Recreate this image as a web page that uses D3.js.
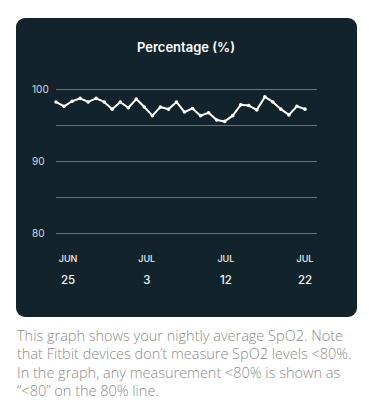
<!DOCTYPE html>
<meta charset="utf-8">
<style>
  body { margin: 0; background: #fff; }
  .grid line { stroke: #66757d; stroke-width: 1px; }
  .ylab { font: 10px "Inter", sans-serif; fill: #d9dee1; }
  .mon { font: 500 9px "Inter", sans-serif; fill: #eef1f2; }
  .day { font: 500 11.5px "Inter", sans-serif; fill: #f2f4f5; }
  .caption { font: 300 14.5px "Open Sans", sans-serif; fill: #8c8c8c; }
</style>
<body>
<script src="https://cdn.jsdelivr.net/npm/d3@7"></script>
<script>
  // nightly average SpO2
  var spo2 = [98.2, 97.6, 98.3, 98.7, 98.2, 98.7, 98.2, 97.2, 98.2, 97.4,
              98.6, 97.5, 96.3, 97.5, 97.2, 98.2, 96.8, 97.3, 96.3, 96.7,
              95.7, 95.5, 96.3, 97.8, 97.7, 97.1, 98.9, 98.2, 97.2, 96.4,
              97.6, 97.2];
  var yTicks = [100, 95, 90, 85, 80];
  var yLabels = [100, 90, 80];
  var tickMonths = ["JUN", "JUL", "JUL", "JUL"];
  var tickDays = ["25", "3", "12", "22"];
  var tickIdx = [1.5, 11.3, 21.15, 31];
  var captionLines = [
    "This graph shows your nightly average SpO2. Note",
    "that Fitbit devices don\u2019t measure SpO2 levels <80%.",
    "In the graph, any measurement <80% is shown as",
    "\u201c<80\u201d on the 80% line."
  ];

  var W = 373, H = 419;
  var svg = d3.select("body").append("svg")
    .attr("width", W)
    .attr("height", H);

  // dark card
  svg.append("rect")
    .attr("x", 16).attr("y", 18)
    .attr("width", 341).attr("height", 299)
    .attr("rx", 9)
    .attr("fill", "#13232c");

  svg.append("text")
    .attr("x", 186).attr("y", 52)
    .attr("text-anchor", "middle")
    .style("font", "600 13px Inter, sans-serif")
    .style("fill", "#ffffff")
    .text("Percentage (%)");

  var x = d3.scaleLinear().domain([0, spo2.length - 1]).range([56, 305]);
  var y = d3.scaleLinear().domain([80, 100]).range([233, 89]);

  var grid = svg.append("g").attr("class", "grid");
  grid.selectAll("line")
    .data(yTicks)
    .enter().append("line")
    .attr("x1", 56).attr("x2", 317)
    .attr("y1", function(d) { return y(d) + 0.5; })
    .attr("y2", function(d) { return y(d) + 0.5; });

  svg.selectAll(".ylab")
    .data(yLabels)
    .enter().append("text")
    .attr("class", "ylab")
    .attr("x", 32)
    .attr("y", function(d) { return y(d) + 3.5; })
    .text(function(d) { return d; });

  // x labels
  svg.selectAll(".mon")
    .data(tickIdx)
    .enter().append("text")
    .attr("class", "mon")
    .attr("text-anchor", "middle")
    .attr("x", function(d) { return x(d); })
    .attr("y", 262)
    .text(function(d, i) { return tickMonths[i]; });

  svg.selectAll(".day")
    .data(tickIdx)
    .enter().append("text")
    .attr("class", "day")
    .attr("text-anchor", "middle")
    .attr("x", function(d) { return x(d); })
    .attr("y", 284)
    .text(function(d, i) { return tickDays[i]; });

  var line = d3.line()
    .x(function(d, i) { return x(i); })
    .y(function(d) { return y(d); });

  svg.append("path")
    .datum(spo2)
    .attr("d", line)
    .attr("fill", "none")
    .attr("stroke", "#ffffff")
    .attr("stroke-width", 2)
    .attr("stroke-linejoin", "round");

  svg.selectAll(".pt")
    .data(spo2)
    .enter().append("circle")
    .attr("class", "pt")
    .attr("cx", function(d, i) { return x(i); })
    .attr("cy", function(d) { return y(d); })
    .attr("r", 1.8)
    .attr("fill", "#ffffff");

  svg.selectAll(".caption")
    .data(captionLines)
    .enter().append("text")
    .attr("class", "caption")
    .attr("x", 17)
    .attr("y", function(d, i) { return 341 + i * 18.3; })
    .text(function(d) { return d; });
</script>
</body>
